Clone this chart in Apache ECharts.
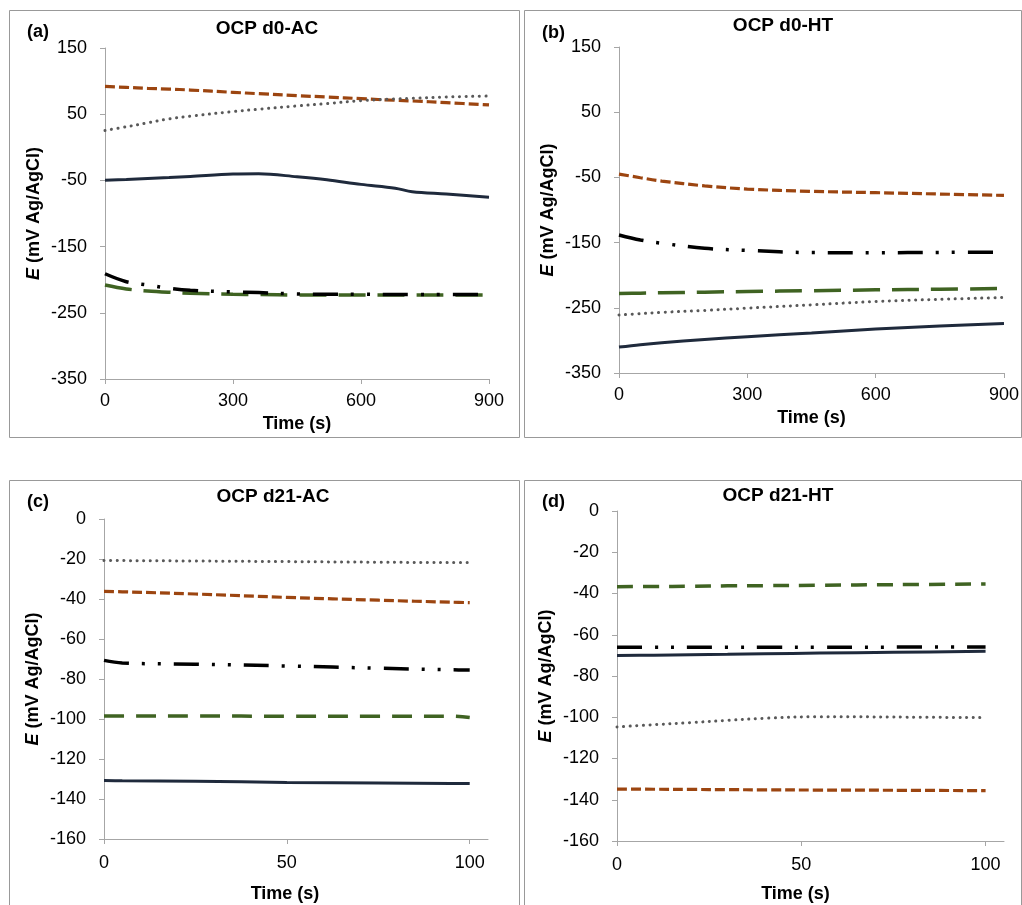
<!DOCTYPE html>
<html>
<head>
<meta charset="utf-8">
<script src="https://cdn.jsdelivr.net/npm/echarts@6/dist/echarts.min.js"></script>
<style>
html,body{margin:0;padding:0;background:#fff;}
#c{width:1022px;height:905px;}
</style>
</head>
<body>
<div id="c"></div>
<script>
// ---------- DATA ----------
var panelTitles = ['OCP d0-AC', 'OCP d0-HT', 'OCP d21-AC', 'OCP d21-HT'];
var panelLabels = ['(a)', '(b)', '(c)', '(d)'];
var xTitle = 'Time (s)';
var yTitle = '{i|E} (mV Ag/AgCl)';

// Panel (a): OCP d0-AC
var tA = [0, 50, 100, 150, 200, 300, 360, 450, 520, 600, 680, 720, 800, 900];
var navyA  = [-49.6, -48.5, -47, -45.6, -44, -40.5, -40, -44.5, -49, -56, -61.7, -67, -70.5, -75.3];
var brownA = [92, 90.5, 89, 88, 86.5, 83, 81, 78, 76, 73.5, 71, 70, 67.5, 64];
var grayA  = [25.5, 31, 37, 43, 47, 54, 57.5, 62.5, 66, 70.5, 73, 74, 76, 77.4];
var blackA = [-191, -203, -208, -213, -216, -218.5, -219.5, -221.5, -222, -222, -222.5, -222.5, -222.5, -222.5];
var greenA = [-208, -214, -217, -219, -220.5, -222, -222.5, -223, -223, -223, -223, -223, -223, -223];

// Panel (b): OCP d0-HT
var tB = [0, 50, 100, 200, 300, 450, 600, 750, 900];
var brownB = [-44.9, -50.5, -55.6, -63, -67.9, -71.4, -73.4, -75.5, -77.6];
var blackB = [-138.3, -146, -151, -158.7, -162, -165.3, -165.5, -165, -164.8];
var greenB = [-228, -227.5, -227, -226, -225, -223.8, -222.5, -221.5, -220.4];
var grayB  = [-261, -259, -257, -254, -250.5, -245.5, -240.3, -237, -234.2];
var navyB  = [-310.2, -306.5, -303.5, -298.5, -294.4, -288.5, -282.7, -278, -274];

// Panel (c): OCP d21-AC
var tC = [0, 5, 25, 50, 75, 95, 100];
var grayC  = [-20.7, -20.8, -21, -21.3, -21.6, -21.8, -21.8];
var brownC = [-36.2, -36.4, -37.5, -39.2, -40.6, -41.6, -41.8];
var blackC = [-70.7, -72, -72.6, -73.5, -74.6, -75.4, -75.5];
var greenC = [-98.5, -98.5, -98.5, -98.6, -98.6, -98.6, -99.3];
var navyC  = [-130.8, -130.9, -131.1, -131.7, -132, -132.2, -132.3];

// Panel (d): OCP d21-HT
var tD = [0, 10, 20, 30, 40, 55, 75, 100];
var greenD = [-36.7, -36.6, -36.5, -36.3, -36.2, -36, -35.7, -35.4];
var blackD = [-66.1, -66.1, -66.1, -66, -66, -66, -66, -65.9];
var navyD  = [-70.1, -69.9, -69.7, -69.5, -69.2, -68.9, -68.5, -68.0];
var grayD  = [-104.7, -103.6, -102.6, -101.5, -100.5, -99.7, -99.9, -100.2];
var brownD = [-134.8, -134.9, -135, -135.1, -135.2, -135.3, -135.4, -135.6];

// Axis ranges / ticks
var yRangeTop = {min: -350, max: 150, interval: 100};
var yRangeBot = {min: -160, max: 0, interval: 20};
var xRangeTop = {min: 0, max: 900, interval: 300};
var xRangeBot = {min: 0, max: 105, interval: 50};
var xTicksBot = [0, 50, 100];

// ---------- STYLES ----------
var FONT = '"Liberation Sans", Arial, sans-serif';
var AX = '#A6A6A6';
var styles = {
  navy:  {color: '#1F2A3C', width: 3, type: 'solid'},
  brown: {color: '#9C4510', width: 3.2, type: [10, 4]},
  gray:  {color: '#595959', width: 3, type: [0.1, 6.5], cap: 'round'},
  black: {color: '#000000', width: 3.5, type: [25, 13, 3, 13, 3, 13]},
  green: {color: '#3F6322', width: 3.5, type: [27, 12]}
};
var greenDash = [[27, 12], [27, 12], [20, 12], [16, 10]];

var panels = [
  {t: tA, s: [['brown', brownA], ['gray', grayA], ['navy', navyA], ['green', greenA], ['black', blackA]]},
  {t: tB, s: [['brown', brownB], ['black', blackB], ['green', greenB], ['gray', grayB], ['navy', navyB]]},
  {t: tC, s: [['gray', grayC], ['brown', brownC], ['black', blackC], ['green', greenC], ['navy', navyC]]},
  {t: tD, s: [['green', greenD], ['black', blackD], ['navy', navyD], ['gray', grayD], ['brown', brownD]]}
];

var grids = [
  {left: 105, top: 48, width: 384, height: 331},
  {left: 619, top: 47, width: 385, height: 326},
  {left: 104, top: 519, width: 384, height: 320},
  {left: 617, top: 511, width: 387, height: 330}
];

var xAxes = [], yAxes = [], series = [], titles = [];
var titlePos = [[267, 19], [783, 16], [273, 487], [778, 486]];
var labelPos = [[27, 23], [542, 24], [27, 493], [542, 493]];
var xNameGap = [36, 36, 46, 44];
var xLabelMargin = [13, 13, 15, 15];
var xNamePad = [0, 0, 22, 30];

for (var i = 0; i < 4; i++) {
  var isTop = i < 2;
  var xr = isTop ? xRangeTop : xRangeBot;
  var yr = isTop ? yRangeTop : yRangeBot;
  var xa = {
    type: 'value', gridIndex: i, min: xr.min, max: xr.max, interval: xr.interval,
    name: xTitle, nameLocation: 'middle', nameGap: xNameGap[i],
    nameTextStyle: {fontFamily: FONT, fontSize: 18, fontWeight: 'bold', color: '#000',
      padding: [0, xNamePad[i], 0, 0]},
    axisLine: {show: true, onZero: false, lineStyle: {color: AX, width: 1}},
    axisTick: {show: true, length: 5, lineStyle: {color: AX}},
    axisLabel: {fontFamily: FONT, fontSize: 18, color: '#000', margin: xLabelMargin[i]},
    splitLine: {show: false}
  };
  if (!isTop) {
    xa.axisTick.customValues = xTicksBot;
    xa.axisLabel.customValues = xTicksBot;
  }
  xAxes.push(xa);
  yAxes.push({
    type: 'value', gridIndex: i, min: yr.min, max: yr.max, interval: yr.interval,
    name: yTitle, nameLocation: 'middle', nameGap: 62, nameRotate: 90,
    nameTextStyle: {fontFamily: FONT, fontSize: 18, fontWeight: 'bold', color: '#000',
      rich: {i: {fontFamily: FONT, fontSize: 18, fontWeight: 'bold', fontStyle: 'italic', color: '#000'}}},
    axisLine: {show: true, onZero: false, lineStyle: {color: AX, width: 1}},
    axisTick: {show: true, length: 5, lineStyle: {color: AX}},
    axisLabel: {fontFamily: FONT, fontSize: 18, color: '#000', margin: 18},
    splitLine: {show: false}
  });
  var p = panels[i];
  p.s.forEach(function (pair) {
    var st = styles[pair[0]];
    var type = pair[0] === 'green' ? greenDash[i] : st.type;
    series.push({
      type: 'line', xAxisIndex: i, yAxisIndex: i, showSymbol: false, symbol: 'none',
      smooth: 0.35, animation: false, silent: true,
      data: p.t.map(function (t, k) { return [t, pair[1][k]]; }),
      lineStyle: {color: st.color, width: st.width, type: type, cap: st.cap || 'butt'}
    });
  });
  titles.push({text: panelTitles[i], left: titlePos[i][0], top: titlePos[i][1], textAlign: 'center', padding: 0,
    textStyle: {fontFamily: FONT, fontSize: 19, fontWeight: 'bold', color: '#000'}});
  titles.push({text: panelLabels[i], left: labelPos[i][0], top: labelPos[i][1], padding: 0,
    textStyle: {fontFamily: FONT, fontSize: 18, fontWeight: 'bold', color: '#000'}});
}

var borderRects = [[9.5, 10.5, 510, 427], [524.5, 10.5, 497, 427], [9.5, 480.5, 510, 440], [524.5, 480.5, 497, 440]];
var graphic = borderRects.map(function (r) {
  return {type: 'rect', shape: {x: r[0], y: r[1], width: r[2], height: r[3]}, silent: true, z: -1,
    style: {fill: 'none', stroke: '#999999', lineWidth: 1}};
});

var chart = echarts.init(document.getElementById('c'), null, {renderer: 'canvas'});
chart.setOption({
  animation: false,
  backgroundColor: '#ffffff',
  title: titles,
  grid: grids,
  xAxis: xAxes,
  yAxis: yAxes,
  series: series,
  graphic: graphic
});
</script>
</body>
</html>
